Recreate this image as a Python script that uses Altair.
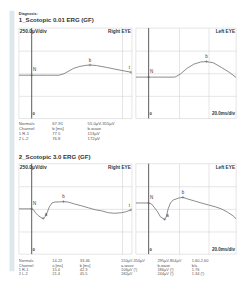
import altair as alt
import pandas as pd

# ---------------- data ----------------
T_MIN = -17                    # ms at left edge of each panel
T_SPAN_RIGHT = 150             # ms shown in the right-eye panel
V_DOMAIN = [-500, 500]         # µV
GRID_T = [0, 20, 40, 60, 80, 100, 120]
GRID_V = [-250, 0, 250]

# 1_Scotopic 0.01 ERG
s1_right_t = [-17, 0, 21, 36.5, 43, 49.6, 56, 64, 72, 77.5, 86, 99, 112, 125, 132]
s1_right_v = [-22, -22, -22, -22, -5, 25, 55, 75, 87, 91, 85, 65, 43, 22, 11]
s1_right_marks = [("N", 1), ("b", 9), ("t", 14)]

s1_left_t = [-17, 0, 35, 42, 51, 60, 69, 76.8, 86, 96.5, 107, 119, 130, 133]
s1_left_v = [-43, -43, -43, -11, 54, 100, 124, 129, 115, 65, 11, -65, -174, -200]
s1_left_marks = [("N", 1), ("b", 7)]

# 2_Scotopic 3.0 ERG
s2_right_t = [-17, 0, 2.6, 5.2, 9, 13, 15.4, 18, 21, 23.5, 27, 31, 35, 39, 42.3,
              48, 57, 66.5, 75.6, 85, 93, 102, 110, 119, 125, 132]
s2_right_v = [0, 0, -11, -43, -76, -98, -106, -87, -33, 22, 65, 76, 76, 78, 80,
              76, 54, 33, 11, -11, -22, -43, -49, -43, -33, -11]
s2_right_marks = [("N", 1), ("a", 6), ("b", 14), ("t", 25)]

s2_left_t = [-17, 0, 4, 8, 12, 15.6, 21.4, 23.5, 26, 29, 32.6, 36.5, 40, 45.5,
             52, 61, 70, 79.6, 88.7, 96.5, 104, 112, 120, 126.5, 133]
s2_left_v = [65, 65, 54, 11, -33, -87, -117, -87, 0, 65, 98, 109, 120, 127,
             109, 87, 65, 43, 22, 0, -33, -76, -141, -217, -304]
s2_left_marks = [("N", 1), ("a", 6), ("b", 13)]

title_diag = "Diagnosis:"
title_1 = "1_Scotopic 0.01 ERG (GF)"
title_2 = "2_Scotopic 3.0 ERG (GF)"
amp_label = "250.0µV/div"
time_label = "20.0ms/div"

table1 = [
    ["Normals", "67-91", "55.0µV-355µV"],
    ["Channel", "b [ms]", "b-wave"],
    ["1 R-1", "77.5", "113µV"],
    ["2 L-2", "76.8", "172µV"],
]
table2 = [
    ["Normals", "14-22", "33-46", "150µV-350µV", "295µV-854µV", "1.60-2.60"],
    ["Channel", "a [ms]", "b [ms]", "a-wave", "b-wave", "b/a"],
    ["1 R-1", "15.4", "42.3", "106µV (!)", "186µV (!)", "1.76"],
    ["2 L-2", "21.4", "45.5", "182µV", "244µV (!)", "1.34 (!)"],
]

# ---------------- style ----------------
FONT = "Liberation Sans"
BLUE = "#dde8ee"
GRID = "#d2d2d2"
AXIS = "#585858"
TRACE = "#6c6c6c"
TXT = "#333333"
TAB = "#555555"
W_RIGHT = 115
W_LEFT = 102
PX_PER_MS = W_RIGHT / T_SPAN_RIGHT
LABEL_OFF = {"N": (1.5, -5, "left"), "a": (1.5, -3.5, "left"),
             "b": (0, -4.5, "center"), "t": (-1, -4, "right")}


def note(txt, x, y, align, baseline, dx, dy, size, bold=True):
    return alt.Chart(pd.DataFrame({"s": [txt]})).mark_text(
        align=align, baseline=baseline, dx=dx, dy=dy, fontSize=size,
        fontWeight="bold" if bold else "normal", color=TXT, font=FONT, clip=True
    ).encode(x=alt.datum(x), y=alt.datum(y), text="s:N")


def panel(t, v, marks, eye, right_eye, width, height):
    t_dom = [T_MIN, T_MIN + width / PX_PER_MS]
    df = pd.DataFrame({"t": t, "v": v})
    xs = alt.Scale(domain=t_dom, nice=False, zero=False)
    ys = alt.Scale(domain=V_DOMAIN, nice=False, zero=False)
    gx = alt.Axis(values=[g for g in GRID_T if g < t_dom[1] - 1], grid=True,
                  gridColor=GRID, gridWidth=0.6,
                  domain=False, ticks=False, labels=False, title=None)
    gy = alt.Axis(values=GRID_V, grid=True, gridColor=GRID, gridWidth=0.6,
                  domain=False, ticks=False, labels=False, title=None)
    X = alt.X("t:Q", scale=xs, axis=gx)
    Y = alt.Y("v:Q", scale=ys, axis=gy)
    zero = alt.Chart(pd.DataFrame({"t": [0]})).mark_rule(
        color=AXIS, strokeWidth=0.9).encode(x=X)
    line = alt.Chart(df).mark_line(color=TRACE, strokeWidth=0.8, clip=True).encode(x=X, y=Y)
    mk = pd.DataFrame({"t": [t[i] for _, i in marks], "v": [v[i] for _, i in marks],
                       "lab": [l for l, _ in marks]})
    cross = alt.Chart(mk).mark_point(shape="M-1,0L1,0M0,-1L0,1", size=9, filled=False,
                                     color=AXIS, strokeWidth=0.6, clip=True).encode(x=X, y=Y)
    layers = [zero, line, cross]
    for lab, (dx, dy, al) in LABEL_OFF.items():
        sub = mk[mk["lab"] == lab]
        if len(sub):
            layers.append(alt.Chart(sub).mark_text(
                align=al, baseline="middle", dx=dx, dy=dy, fontSize=4.5,
                color=TXT, font=FONT, clip=True).encode(x=X, y=Y, text="lab:N"))
    if right_eye:
        layers.append(note(amp_label, t_dom[0], V_DOMAIN[1], "left", "top", 1, 1, 5))
    else:
        layers.append(note(time_label, t_dom[1], V_DOMAIN[0], "right", "bottom", -1, -2, 4.6))
    layers.append(note(eye, t_dom[1], V_DOMAIN[1], "right", "top", -1, 1, 4.8))
    layers.append(note("0", 0, V_DOMAIN[0], "left", "bottom", 1, -2, 4.3))
    return alt.layer(*layers).properties(
        width=width, height=height,
        view=alt.ViewBackground(stroke=GRID, strokeWidth=0.6))


def table(rows, cols_px, rows_px, width, height, size):
    recs = []
    for r, row in enumerate(rows):
        for c, s in enumerate(row):
            recs.append({"r": r, "c": c, "s": s})
    df = pd.DataFrame(recs)
    return alt.Chart(df).mark_text(
        align="left", baseline="middle", fontSize=size, color=TAB, font=FONT, clip=True
    ).encode(
        x=alt.X("c:Q", scale=alt.Scale(domain=list(range(len(cols_px))), range=cols_px,
                                       nice=False, zero=False), axis=None),
        y=alt.Y("r:Q", scale=alt.Scale(domain=[0, len(rows) - 1], range=rows_px,
                                       nice=False, zero=False), axis=None),
        text="s:N",
    ).properties(width=width, height=height, view=alt.ViewBackground(strokeOpacity=0))


def header(lines, sizes, rows_px, width, height):
    layers = []
    for i, (s, fs) in enumerate(zip(lines, sizes)):
        layers.append(alt.Chart(pd.DataFrame({"r": [i], "c": [0], "s": [s]})).mark_text(
            align="left", baseline="middle", fontSize=fs, fontWeight="bold",
            color=TXT, font=FONT).encode(
            x=alt.X("c:Q", scale=alt.Scale(domain=[0, 1], range=[0, width]), axis=None),
            y=alt.Y("r:Q", scale=alt.Scale(domain=[0, max(len(lines) - 1, 1)], range=rows_px,
                                           nice=False, zero=False), axis=None),
            text="s:N"))
    return alt.layer(*layers).properties(width=width, height=height,
                                         view=alt.ViewBackground(strokeOpacity=0))


MAIN_W = W_RIGHT + W_LEFT + 2

h1 = header([title_diag, title_1], [3.8, 6.2], [3.8, 9.8], MAIN_W, 17)
row1 = alt.hconcat(
    panel(s1_right_t, s1_right_v, s1_right_marks, "Right EYE", True, W_RIGHT, 92),
    panel(s1_left_t, s1_left_v, s1_left_marks, "Left EYE", False, W_LEFT, 92),
    spacing=2)
t1 = table(table1, [0, 34, 70], [5, 20], MAIN_W, 29.5, 4.3)
h2 = header([title_2], [6.2], [8, 14], MAIN_W, 14)
row2 = alt.hconcat(
    panel(s2_right_t, s2_right_v, s2_right_marks, "Right EYE", True, W_RIGHT, 92),
    panel(s2_left_t, s2_left_v, s2_left_marks, "Left EYE", False, W_LEFT, 92),
    spacing=2)
t2 = table(table2, [0, 34, 62, 104, 141, 176], [6.4, 19.4], MAIN_W, 21.3, 4.0)

main = alt.vconcat(h1, row1, t1, h2, row2, t2, spacing=0)

strip = alt.Chart(pd.DataFrame({"a": [0]})).mark_point(opacity=0).encode(
    x=alt.X("a:Q", axis=None), y=alt.Y("a:Q", axis=None)
).properties(width=5, height=265, view=alt.ViewBackground(fill=BLUE, strokeOpacity=0))

chart = alt.hconcat(strip, main, spacing=3).properties(padding=0)

chart.save("out.html", embed_options={"renderer": "svg", "actions": False})
